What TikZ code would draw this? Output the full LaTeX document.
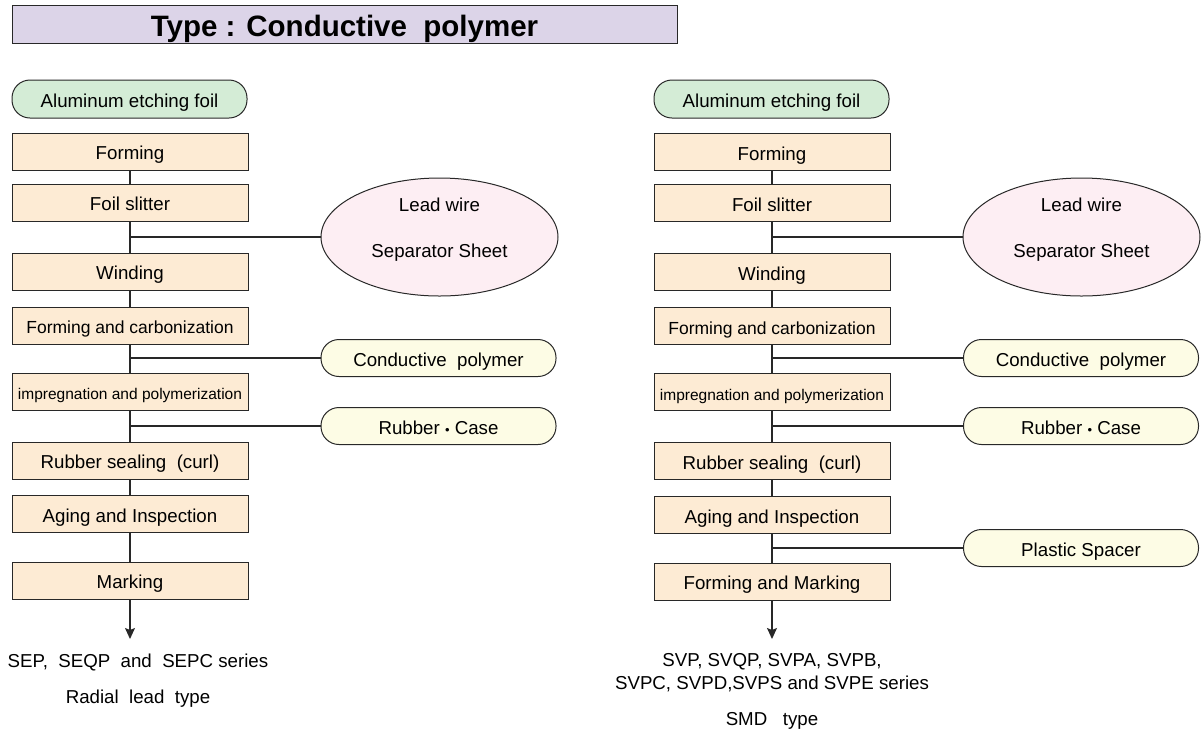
\documentclass[tikz,border=0pt]{standalone}
\usepackage{fontspec}
\setmainfont{Liberation Sans}
\usetikzlibrary{shapes.geometric,arrows.meta}
\definecolor{boxfill}{RGB}{253,235,212}
\definecolor{greenfill}{RGB}{212,236,214}
\definecolor{pinkfill}{RGB}{253,238,243}
\definecolor{yelfill}{RGB}{253,252,229}
\definecolor{titlefill}{RGB}{220,212,232}
\definecolor{edge}{RGB}{40,40,40}
\tikzset{
  base/.style={draw=edge, line width=1pt, inner sep=0pt, font=\fontsize{18.7}{22}\selectfont, text height=16pt, text depth=0pt},
  stepbox/.style={base, rectangle, fill=boxfill, minimum width=236pt, minimum height=37pt},
  startpill/.style={base, rectangle, rounded corners=18pt, fill=greenfill, minimum width=235pt, minimum height=38pt},
  matpill/.style={base, rectangle, rounded corners=18pt, fill=yelfill, minimum width=235pt, minimum height=37pt},
  matell/.style={base, ellipse, fill=pinkfill, minimum width=237pt, minimum height=118pt},
  conn/.style={draw=edge, line width=1.3pt},
  tip/.style={-{Stealth[length=11pt,width=10pt,inset=2pt]}},
  txt/.style={inner sep=0pt, font=\fontsize{18.7}{22}\selectfont, text height=16pt, text depth=0pt},
  smallfont/.style={font=\fontsize{15.5}{18}\selectfont},
  midfont/.style={font=\fontsize{17.5}{20}\selectfont},
}
\newcommand{\midbul}{\ {\fontsize{13}{13}\selectfont •}\ }
\begin{document}
\begin{tikzpicture}[x=1pt,y=-1pt]
\useasboundingbox (0,0) rectangle (1203,732);
% title
\node[draw=edge, line width=1pt, fill=titlefill, minimum width=665pt, minimum height=38pt, inner sep=0pt,
  text height=24pt, text depth=0pt,
  font=\fontsize{29.5}{34}\selectfont\bfseries] (title) at (344.5,24) {Type : Conductive\ \ polymer};

% ---------- left column ----------
\node[startpill] (La) at (129.5,99) {Aluminum etching foil};
\node[stepbox] (Lf) at (130,151.5) {Forming};
\node[stepbox] (Ls) at (130,202.5) {Foil slitter};
\node[stepbox] (Lw) at (130,271.5) {Winding};
\node[stepbox, midfont] (Lc) at (130,325.5) {Forming and carbonization};
\node[stepbox, smallfont] (Li) at (130,391.5) {impregnation and polymerization};
\node[stepbox] (Lr) at (130,460.5) {Rubber sealing\ \ (curl)};
\node[stepbox] (Lg) at (130,514) {Aging and Inspection};
\node[stepbox] (Lm) at (130,580.5) {Marking};

\node[matell] (Le) at (439.5,237) {};
\node[txt] (Le1) at (439.5,203.5) {Lead wire};
\node[txt] (Le2) at (439.5,249.5) {Separator Sheet};
\node[matpill] (Lp) at (438.5,358) {Conductive\ \ polymer};
\node[matpill] (Lb) at (438.5,426) {Rubber\midbul Case};

\coordinate (Lj1) at (130,237);
\coordinate (Lj2) at (130,358);
\coordinate (Lj3) at (130,426);
\coordinate (Lend) at (130,639);

\draw[conn] (Lf) -- (Ls);
\draw[conn] (Ls) -- (Lw);
\draw[conn] (Lw) -- (Lc);
\draw[conn] (Lc) -- (Li);
\draw[conn] (Li) -- (Lr);
\draw[conn] (Lr) -- (Lg);
\draw[conn] (Lg) -- (Lm);
\draw[conn, tip] (Lm) -- (Lend);
\draw[conn] (Lj1) -- (Le);
\draw[conn] (Lj2) -- (Lp);
\draw[conn] (Lj3) -- (Lb);

\node[txt] (Lt1) at (138,659.5) {SEP,\ \ SEQP\ \ and\ \ SEPC series};
\node[txt] (Lt2) at (138,695.5) {Radial\ \ lead\ \ type};

% ---------- right column ----------
\node[startpill] (Ra) at (771.5,99) {Aluminum etching foil};
\node[stepbox] (Rf) at (772,152) {Forming};
\node[stepbox] (Rs) at (772,203) {Foil slitter};
\node[stepbox] (Rw) at (772,272) {Winding};
\node[stepbox, midfont] (Rc) at (772,326) {Forming and carbonization};
\node[stepbox, smallfont] (Ri) at (772,392) {impregnation and polymerization};
\node[stepbox] (Rr) at (772,461) {Rubber sealing\ \ (curl)};
\node[stepbox] (Rg) at (772,515) {Aging and Inspection};
\node[stepbox] (Rm) at (772,581.5) {Forming and Marking};

\node[matell] (Re) at (1081.5,237) {};
\node[txt] (Re1) at (1081.5,203.5) {Lead wire};
\node[txt] (Re2) at (1081.5,249.5) {Separator Sheet};
\node[matpill] (Rp) at (1081,358) {Conductive\ \ polymer};
\node[matpill] (Rb) at (1081,426) {Rubber\midbul Case};
\node[matpill] (Rq) at (1081,548) {Plastic Spacer};

\coordinate (Rj1) at (772,237);
\coordinate (Rj2) at (772,358);
\coordinate (Rj3) at (772,426);
\coordinate (Rj4) at (772,548);
\coordinate (Rend) at (772,639);

\draw[conn] (Rf) -- (Rs);
\draw[conn] (Rs) -- (Rw);
\draw[conn] (Rw) -- (Rc);
\draw[conn] (Rc) -- (Ri);
\draw[conn] (Ri) -- (Rr);
\draw[conn] (Rr) -- (Rg);
\draw[conn] (Rg) -- (Rm);
\draw[conn, tip] (Rm) -- (Rend);
\draw[conn] (Rj1) -- (Re);
\draw[conn] (Rj2) -- (Rp);
\draw[conn] (Rj3) -- (Rb);
\draw[conn] (Rj4) -- (Rq);

\node[txt] (Rt1) at (772,658.5) {SVP, SVQP, SVPA, SVPB,};
\node[txt] (Rt2) at (772,681.5) {SVPC, SVPD,SVPS and SVPE series};
\node[txt] (Rt3) at (772,717.5) {SMD\ \ \ type};
\end{tikzpicture}
\end{document}
